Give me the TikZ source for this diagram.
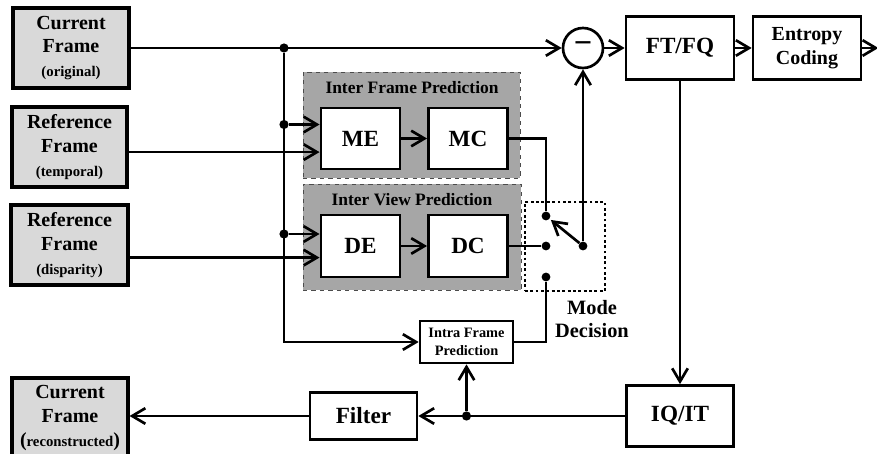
\documentclass[tikz,border=0pt]{standalone}
\usepackage{fontspec}
\setmainfont{Liberation Serif}
\usepackage{xcolor}
\usepackage{tikz}
\usetikzlibrary{positioning, arrows.meta, fit, backgrounds, calc}

\definecolor{framegray}{HTML}{D9D9D9}
\definecolor{groupgray}{HTML}{A6A6A6}

\newcommand{\framenote}[1]{{\fontsize{10.5}{12}\selectfont #1}}

\begin{document}
\begin{tikzpicture}[
        framebox/.style={draw, rectangle, minimum width=2.9cm, minimum height=2cm, align=center, fill=framegray, line width=2.2pt, inner sep=1pt, font=\fontsize{14.2}{17}\selectfont\bfseries},
        unitbox/.style={draw, rectangle, minimum width=1.975cm, minimum height=1.55cm, align=center, fill=white, line width=2.1pt, font=\fontsize{16.5}{19}\selectfont\bfseries},
        codebox/.style={draw, rectangle, minimum width=2.7cm, minimum height=1.575cm, align=center, fill=white, line width=1.9pt, font=\fontsize{16.5}{19}\selectfont\bfseries},
        groupbox/.style={draw=black!70, dashed, line width=0.6pt, fill=groupgray, inner sep=0pt},
        grouplabel/.style={font=\fontsize{12.4}{14}\selectfont\bfseries},
        arrow/.style={-{Straight Barb[length=3.3mm,width=3.9mm]}, line width=1.9pt},
        wire/.style={line width=1.9pt},
        junction/.style={circle, fill=black, inner sep=0pt, minimum size=2.3mm},
        contact/.style={circle, fill=black, inner sep=0pt, minimum size=2.2mm}
    ]

    \useasboundingbox (0,0) rectangle (21.925,-11.35);

    % ============ FRAMES ============
    \node[framebox] (curframe) at (1.775, -1.2) {Current\\Frame\\\framenote{(original)}};
    \node[framebox, minimum width=2.875cm] (reftemp) at (1.7375, -3.675) {Reference\\Frame\\\framenote{(temporal)}};
    \node[framebox, minimum width=2.925cm] (refdisp) at (1.7375, -6.125) {Reference\\Frame\\\framenote{(disparity)}};
    \node[framebox] (recframe) at (1.75, -10.45) {Current\\Frame\\(\framenote{reconstructed})};

    % ============ PREDICTION ============
    \node[unitbox, minimum height=1.525cm] (ME) at (9.0125, -3.4625) {ME};
    \node[unitbox, minimum height=1.525cm] (MC) at (11.7, -3.4625) {MC};
    \node[unitbox] (DE) at (9.0125, -6.15) {DE};
    \node[unitbox] (DC) at (11.7, -6.15) {DC};

    \node[grouplabel] (iflabel) at (10.3, -2.2) {Inter Frame Prediction};
    \node[grouplabel] (ivlabel) at (10.3, -5.0) {Inter View Prediction};

    \node[draw, rectangle, minimum width=2.325cm, minimum height=1.05cm, align=center, fill=white, line width=1.9pt, inner sep=1pt, font=\fontsize{10.2}{12.6}\selectfont\bfseries] (intra) at (11.6625, -8.55) {Intra Frame\\Prediction};

    % ============ MODE DECISION ============
    \node[draw, dash pattern=on 2pt off 1.8pt, line width=2pt, inner sep=0pt, fit={(13.125,-5.05)(15.125,-7.275)}] (modebox) {};
    \node[contact] (swtop) at (13.65, -5.4) {};
    \node[contact] (swmid) at (13.65, -6.15) {};
    \node[contact] (swbot) at (13.65, -6.925) {};
    \node[contact] (pivot) at (14.575, -6.15) {};
    \node[font=\fontsize{14.5}{16.5}\selectfont\bfseries, align=center] (modelabel) at (14.8, -7.975) {Mode\\Decision};

    % ============ CODING ============
    \node[draw, circle, minimum size=1cm, inner sep=0pt, line width=1.9pt, font=\fontsize{23}{23}\selectfont\bfseries] (subtract) at (14.575, -1.2) {−};
    \node[codebox] (ftfq) at (17.0, -1.2) {FT/FQ};
    \node[codebox, font=\fontsize{14.2}{17}\selectfont\bfseries] (entropy) at (20.175, -1.2) {Entropy\\Coding};
    \coordinate (bitstream) at (21.96, -1.2);

    \node[codebox, minimum width=2.675cm, minimum height=1.525cm] (iqit) at (17.0, -10.4) {IQ/IT};
    \node[codebox, minimum width=2.675cm, minimum height=1.175cm] (filter) at (9.0875, -10.4) {Filter};

    % ============ JUNCTIONS ============
    \coordinate (mein1) at ([yshift=0.35cm]ME.west);
    \coordinate (mein2) at ([yshift=-0.34cm]ME.west);
    \coordinate (dein1) at ([yshift=0.3cm]DE.west);
    \coordinate (dein2) at ([yshift=-0.29cm]DE.west);
    \node[junction] (jcur) at (7.1, -1.2) {};
    \node[junction] (jme) at (jcur |- mein1) {};
    \node[junction] (jde) at (jcur |- dein1) {};
    \node[junction] (jfilt) at (intra |- filter) {};

    % ============ ARROWS ============
    % Current frame
    \draw[arrow] (curframe.east) -- (subtract.west);
    \draw[arrow] (jcur) |- (intra.west);
    \draw[arrow] (jme) -- (mein1);
    \draw[arrow] (jde) -- (dein1);

    % Reference frames
    \draw[arrow] (reftemp.east |- mein2) -- (mein2);
    \draw[arrow] (refdisp.east |- dein2) -- (dein2);
    \draw[arrow] (ME) -- (MC);
    \draw[arrow] (DE) -- (DC);

    % Mode decision
    \draw[wire] (MC.east) -| (swtop);
    \draw[wire] (DC.east) -- (swmid);
    \draw[wire] (intra.east) -| (swbot);
    \draw[arrow, shorten >=0.4mm] (pivot) -- (swtop);
    \draw[arrow] (pivot) -- (subtract.south);

    % Coding loop
    \draw[arrow] (subtract) -- (ftfq);
    \draw[arrow] (ftfq) -- (entropy);
    \draw[arrow] (entropy) -- (bitstream);
    \draw[arrow] (ftfq) -- (iqit);
    \draw[arrow] (iqit) -- (filter);
    \draw[arrow] (jfilt) -- (intra);
    \draw[arrow] (filter.west) -- (filter.west -| recframe.east);

    % ============ GROUPS ============
    \begin{scope}[on background layer]
        \node[groupbox, fit={(7.575,-1.8)(13.0,-4.45)}] (interframe) {};
        \node[groupbox, fit={(7.575,-4.6)(13.025,-7.25)}] (interview) {};
    \end{scope}

    \end{tikzpicture}
\end{document}
